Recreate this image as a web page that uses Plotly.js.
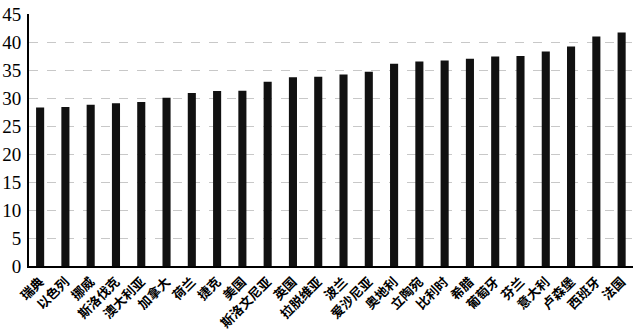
<!DOCTYPE html>
<html><head><meta charset="utf-8">
<script src="https://cdn.plot.ly/plotly-3.0.1.min.js"></script>
<style>html,body{margin:0;padding:0;background:#fff;}#chart{width:641px;height:332px;}</style>
</head><body><div id="chart"></div>
<script>
var countries = ["瑞典","以色列","挪威","斯洛伐克","澳大利亚","加拿大","荷兰","捷克","美国","斯洛文尼亚","英国","拉脱维亚","波兰","爱沙尼亚","奥地利","立陶宛","比利时","希腊","葡萄牙","芬兰","意大利","卢森堡","西班牙","法国"];
var values = [28.3,28.4,28.8,29.05,29.3,30.05,30.9,31.25,31.3,32.9,33.7,33.8,34.2,34.7,36.1,36.5,36.7,37.0,37.4,37.5,38.3,39.2,41.0,41.7];
var yTicks = [0,5,10,15,20,25,30,35,40,45];

Plotly.newPlot('chart', [{
  type: 'bar',
  x: countries,
  y: values,
  marker: {color: '#111111', line: {width: 0}},
  width: 0.32,
  hoverinfo: 'none'
}], {
  width: 641, height: 332,
  margin: {l: 29, r: 8, t: 14, b: 66},
  paper_bgcolor: '#ffffff', plot_bgcolor: '#ffffff',
  showlegend: false,
  xaxis: {
    type: 'category',
    range: [-0.44, 23.45],
    tickangle: -45,
    tickfont: {family: 'Noto Sans CJK SC', size: 13, color: '#000', weight: 700},
    showline: true, linecolor: '#000', linewidth: 2,
    showgrid: false, zeroline: false, ticks: '',
    ticklabelstandoff: 1
  },
  yaxis: {
    range: [0, 45],
    tickvals: yTicks,
    ticktext: yTicks.map(String),
    tickfont: {family: 'Liberation Serif', size: 19, color: '#000'},
    showline: true, linecolor: '#000', linewidth: 2,
    showgrid: true, gridcolor: '#c8c8c8', griddash: 'dash', gridwidth: 1,
    zeroline: false, ticks: '', ticklabelstandoff: 2
  }
}, {staticPlot: true});
</script></body></html>
